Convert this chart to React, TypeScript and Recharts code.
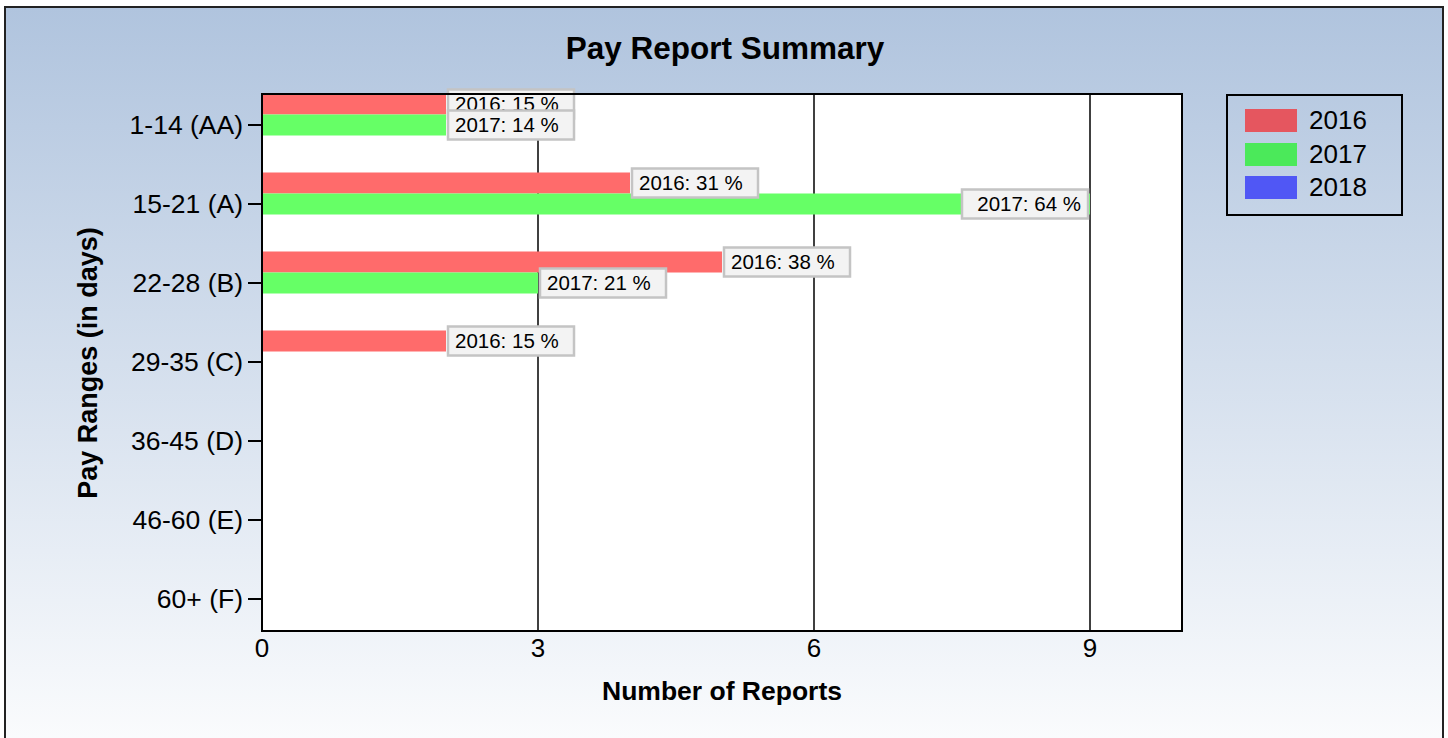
import React from 'react';
import { BarChart, Bar, XAxis, YAxis, CartesianGrid, LabelList, Legend } from 'recharts';

const categories = ['1-14 (AA)', '15-21 (A)', '22-28 (B)', '29-35 (C)', '36-45 (D)', '46-60 (E)', '60+ (F)'];
const reports2016 = [2, 4, 5, 2, 0, 0, 0];
const reports2017 = [2, 9, 3, 0, 0, 0, 0];
const reports2018 = [0, 0, 0, 0, 0, 0, 0];
const years = ['2016', '2017', '2018'];
const xTicks = [0, 3, 6, 9];

const barColors = ['#ff6b6b', '#66ff66', '#5a5fff'];
const legendColors = ['#e5565f', '#4be95a', '#5057f5'];

const W = 1448;
const H = 738;
const MARGIN = { top: 94, right: 266, bottom: 47, left: 0 };
const PLOT_RIGHT = W - MARGIN.right;
const FONT = '"Liberation Sans", Arial, sans-serif';

const data = categories.map((name, i) => ({
  name,
  y2016: reports2016[i],
  y2017: reports2017[i],
  y2018: reports2018[i],
}));

const sum = (arr: number[]) => arr.reduce((a, b) => a + b, 0);

const makeLabel = (year: string, values: number[]) => (props: any) => {
  const { x, y, width, height, value } = props;
  if (!value) return null;
  const pct = Math.round((value / sum(values)) * 100);
  const boxW = 126;
  const boxH = 29;
  const end = Number(x) + Number(width);
  let bx = end + 2;
  let flipped = false;
  if (bx + boxW > PLOT_RIGHT) {
    bx = end - boxW - 2;
    flipped = true;
  }
  const cy = Number(y) + Number(height) / 2;
  return (
    <g>
      <rect x={bx} y={cy - boxH / 2} width={boxW} height={boxH} fill="#f3f3f3" stroke="#c4c4c4" strokeWidth={2.5} />
      <text
        x={flipped ? bx + boxW - 7 : bx + 7}
        y={cy + 7}
        textAnchor={flipped ? 'end' : 'start'}
        fontSize={20.5}
        fill="#000"
        fontFamily={FONT}
      >
        {`${year}: ${pct} %`}
      </text>
    </g>
  );
};

const renderLegend = () => (
  <div
    style={{
      width: 177,
      height: 122,
      border: '2px solid #000',
      boxSizing: 'border-box',
      position: 'relative',
      fontFamily: FONT,
    }}
  >
    {years.map((y, i) => (
      <div
        key={y}
        style={{ position: 'absolute', left: 17, top: 13 + i * 33.5, display: 'flex', alignItems: 'center', height: 23 }}
      >
        <span style={{ width: 52, height: 23, background: legendColors[i], display: 'inline-block' }} />
        <span style={{ marginLeft: 12, fontSize: 26, color: '#000', lineHeight: '23px' }}>{y}</span>
      </div>
    ))}
  </div>
);

export default function App() {
  return (
    <div style={{ position: 'absolute', left: 0, top: 0, width: W, height: H, overflow: 'hidden', fontFamily: FONT }}>
      <div
        style={{
          position: 'absolute',
          left: 4,
          top: 6,
          width: 1436,
          height: 780,
          border: '2px solid #222',
          background: 'linear-gradient(to bottom, #b0c4de 0%, #ffffff 100%)',
        }}
      />
      <div
        style={{
          position: 'absolute',
          left: 0,
          width: 1450,
          top: 30,
          textAlign: 'center',
          fontSize: 31.5,
          fontWeight: 'bold',
          color: '#000',
        }}
      >
        Pay Report Summary
      </div>
      <div
        style={{
          position: 'absolute',
          left: 262,
          width: 920,
          top: 676,
          textAlign: 'center',
          fontSize: 26.5,
          fontWeight: 'bold',
          color: '#000',
        }}
      >
        Number of Reports
      </div>
      <div
        style={{
          position: 'absolute',
          left: 88,
          top: 363,
          transform: 'translate(-50%, -50%) rotate(-90deg)',
          whiteSpace: 'nowrap',
          fontSize: 27,
          fontWeight: 'bold',
          color: '#000',
        }}
      >
        Pay Ranges (in days)
      </div>
      <div style={{ position: 'absolute', left: 0, top: 0 }}>
        <BarChart
          width={W}
          height={H}
          data={data}
          layout="vertical"
          margin={MARGIN}
          barGap={0}
          barSize={21}
          style={{ fontFamily: FONT }}
        >
          <CartesianGrid horizontal={false} stroke="#000" strokeWidth={1.5} fill="#fff" fillOpacity={1} />
          <XAxis
            type="number"
            domain={[0, 10]}
            ticks={xTicks}
            tickLine={false}
            axisLine={false}
            height={60}
            tick={{ fontSize: 26, fill: '#000' }}
          />
          <YAxis
            type="category"
            dataKey="name"
            width={262}
            interval={0}
            tickSize={14}
            tickMargin={5}
            axisLine={false}
            tickLine={{ stroke: '#000', strokeWidth: 2 }}
            tick={{ fontSize: 26.5, fill: '#000' }}
            padding={{ top: -8.5, bottom: -7.5 }}
          />
          <Legend
            layout="vertical"
            align="center"
            verticalAlign="middle"
            content={renderLegend}
            wrapperStyle={{ position: 'absolute', left: 1226, top: 94, width: 177, height: 122 }}
          />
          <Bar dataKey="y2016" name="2016" fill={barColors[0]} isAnimationActive={false}>
            <LabelList dataKey="y2016" content={makeLabel('2016', reports2016)} />
          </Bar>
          <Bar dataKey="y2017" name="2017" fill={barColors[1]} isAnimationActive={false}>
            <LabelList dataKey="y2017" content={makeLabel('2017', reports2017)} />
          </Bar>
          <Bar dataKey="y2018" name="2018" fill={barColors[2]} isAnimationActive={false}>
            <LabelList dataKey="y2018" content={makeLabel('2018', reports2018)} />
          </Bar>
        </BarChart>
      </div>
      <div
        style={{
          position: 'absolute',
          left: 261,
          top: 93,
          width: 922,
          height: 539,
          border: '2px solid #000',
          boxSizing: 'border-box',
          pointerEvents: 'none',
        }}
      />
    </div>
  );
}
